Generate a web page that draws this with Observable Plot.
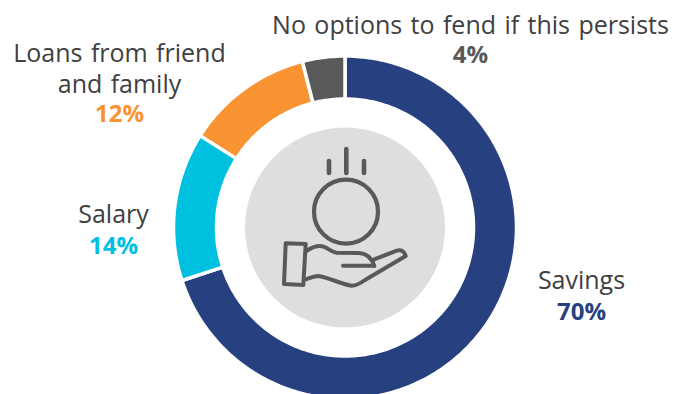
<!DOCTYPE html>
<html>
<head>
<meta charset="utf-8">
<script src="https://cdn.jsdelivr.net/npm/d3@7"></script>
<script src="https://cdn.jsdelivr.net/npm/@observablehq/plot@0.6"></script>
<style>
  html, body { margin: 0; padding: 0; background: #fff; overflow: hidden; }
  svg { display: block; }
</style>
</head>
<body>
<div id="chart"></div>
<script>
// Share of respondents by source of funds, clockwise from twelve o'clock.
const categories = ["Savings", "Salary", "Loans from friend and family", "No options to fend if this persists"];
const shares = [70, 14, 12, 4];
const sliceColors = ["#27407F", "#00C0E0", "#FA9433", "#595959"];

// Label text, one entry per category, split over its lines.
const labelLines = [["Savings"], ["Salary"], ["Loans from friend", "and family"], ["No options to fend if this persists"]];

const fontFamily = "'Open Sans', sans-serif";
const ink = "#404040";
const iconInk = "#595959";

// Ring geometry, in units of the outer radius.
const pxPerUnit = 171.5;
const centerX = 344.5, centerY = 227;
const innerRadius = 128.5 / pxPerUnit;

// Turn each share into a closed outline of the ring section it covers.
const pie = d3.pie().sort(null).value((d) => d.share);
const ringRows = pie(categories.map((category, i) => ({category, share: shares[i]})));
const outline = [];
for (const slice of ringRows) {
  const steps = Math.ceil((slice.endAngle - slice.startAngle) / (Math.PI / 180));
  const angles = d3.range(steps + 1).map((k) => slice.startAngle + (slice.endAngle - slice.startAngle) * k / steps);
  const push = (a, r) => outline.push({category: slice.data.category, x: r * Math.sin(a), y: -r * Math.cos(a)});
  angles.forEach((a) => push(a, 1));
  angles.slice().reverse().forEach((a) => push(a, innerRadius));
  push(angles[0], 1);
}

// Text anchors for each label block: centre x and the vertical centre of each line.
const labelPlacement = [
  {x: 581, lines: [280], value: 311.5},
  {x: 113, lines: [214], value: 245.5},
  {x: 119, lines: [53, 84], value: 114},
  {x: 470, lines: [25], value: 55}
];
const textRows = [];
const valueRows = [];
categories.forEach((category, i) => {
  const place = labelPlacement[i];
  labelLines[i].forEach((text, k) => textRows.push({text, px: place.x, py: place.lines[k]}));
  valueRows.push({text: `${shares[i]}%`, category, px: place.x, py: place.value});
});

// Hand-and-coin pictogram, drawn around the ring centre.
const handPaths = [
  "M-58.8,16.3 L-38.8,17 L-41.2,58 L-60.5,57 Z",
  "M-37.8,23.7 C-32,20 -28,19 -24.5,19 C-18,19 -14,25 -7.8,25.7 L14,26 C22,26.3 27,30 29.8,39",
  "M-1.5,38.7 L28.2,38.7",
  "M29.8,32.3 L52.2,23.7 C57,22 60,25 61.2,29 L20.5,53 C15,57 11,58.7 7.2,58.7 C2,58.7 -18,50 -26.2,49 C-31,49 -34,51 -38.5,52.3"
];
const coinDrops = [[-15.5, -66, -54], [1.8, -78, -54], [19.5, -66, -54]];

function icon(index, scales) {
  const g = d3.create("svg:g")
    .attr("transform", `translate(${scales.x(0)},${scales.y(0)})`)
    .attr("fill", "none")
    .attr("stroke", iconInk)
    .attr("stroke-width", 4)
    .attr("stroke-linecap", "round")
    .attr("stroke-linejoin", "round");
  g.append("circle").attr("cx", 1.5).attr("cy", -15.3).attr("r", 32).attr("stroke-width", 4.2);
  for (const [x, y1, y2] of coinDrops) {
    g.append("line").attr("x1", x).attr("x2", x).attr("y1", y1).attr("y2", y2).attr("stroke-width", 4.6);
  }
  for (const d of handPaths) g.append("path").attr("d", d);
  return g.node();
}

const W = 674, H = 394;
const textMark = (rows, opts) => Plot.text(rows, {
  x: (d) => (d.px - centerX) / pxPerUnit,
  y: (d) => (d.py - centerY) / pxPerUnit,
  text: "text",
  fontFamily,
  textAnchor: "middle",
  lineAnchor: "middle",
  ...opts
});

const chart = Plot.plot({
  width: W,
  height: H,
  margin: 0,
  style: {background: "#fff", overflow: "hidden", wordSpacing: "1.9px"},
  x: {domain: [-centerX / pxPerUnit, (W - centerX) / pxPerUnit], range: [0, W], axis: null},
  y: {domain: [-centerY / pxPerUnit, (H - centerY) / pxPerUnit], range: [0, H], axis: null},
  color: {domain: categories, range: sliceColors},
  marks: [
    Plot.dot([{x: 0, y: 0}], {x: "x", y: "y", r: 100, fill: "#DEDEDE", stroke: "none"}),
    Plot.line(outline, {
      x: "x",
      y: "y",
      z: "category",
      fill: "category",
      stroke: "#fff",
      strokeWidth: 3.5,
      curve: "linear"
    }),
    icon,
    textMark(textRows, {fill: ink, fontSize: 25}),
    textMark(valueRows, {fill: "category", fontSize: 24, fontWeight: 700})
  ]
});
document.getElementById("chart").appendChild(chart);
</script>
</body>
</html>
